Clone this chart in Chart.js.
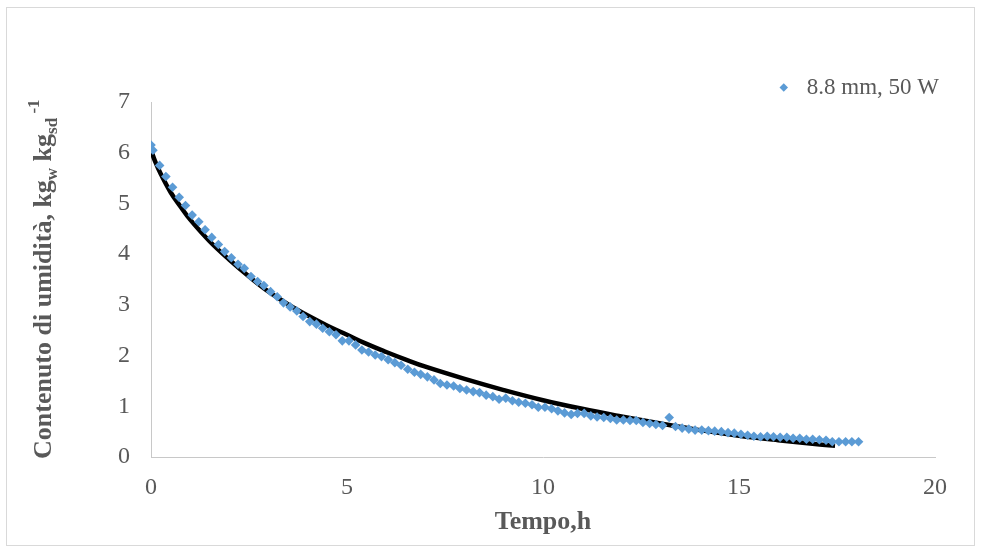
<!DOCTYPE html>
<html>
<head>
<meta charset="utf-8">
<script src="https://cdn.jsdelivr.net/npm/chart.js@4.4.1/dist/chart.umd.min.js"></script>
<style>
  html, body { margin: 0; padding: 0; background: #ffffff; }
  #wrap { position: relative; width: 982px; height: 553px; }
  #frame { position: absolute; left: 6px; top: 7px; width: 969px; height: 539px; border: 1px solid #d9d9d9; box-sizing: border-box; pointer-events: none; }
  canvas { position: absolute; left: 0; top: 0; }
</style>
</head>
<body>
<div id="wrap">
  <canvas id="c" width="982" height="553"></canvas>
  <div id="frame"></div>
</div>
<script>
// ---- data ----
const seriesLabel = '8.8 mm, 50 W';
const xTitle = 'Tempo,h';

// measured points: time (h)
const tempo = [
  0, 0.05, 0.22, 0.38, 0.55, 0.72, 0.88, 1.05, 1.22, 1.38,
  1.55, 1.72, 1.88, 2.05, 2.22, 2.38, 2.55, 2.72, 2.88, 3.05,
  3.22, 3.38, 3.55, 3.72, 3.88, 4.05, 4.22, 4.38, 4.55, 4.72,
  4.88, 5.05, 5.22, 5.38, 5.55, 5.72, 5.88, 6.05, 6.22, 6.38,
  6.55, 6.72, 6.88, 7.05, 7.22, 7.38, 7.55, 7.72, 7.88, 8.05,
  8.22, 8.38, 8.55, 8.72, 8.88, 9.05, 9.22, 9.38, 9.55, 9.72,
  9.88, 10.05, 10.22, 10.38, 10.55, 10.72, 10.88, 11.05, 11.22, 11.38,
  11.55, 11.72, 11.88, 12.05, 12.22, 12.38, 12.55, 12.72, 12.88, 13.05,
  13.22, 13.38, 13.55, 13.72, 13.88, 14.05, 14.22, 14.38, 14.55, 14.72,
  14.88, 15.05, 15.22, 15.38, 15.55, 15.72, 15.88, 16.05, 16.22, 16.38,
  16.55, 16.72, 16.88, 17.05, 17.22, 17.38, 17.55, 17.72, 17.88, 18.05
];
// measured points: moisture content (kg_w / kg_sd)
const umidita = [
  6.15, 6.05, 5.75, 5.53, 5.32, 5.12, 4.96, 4.77, 4.64, 4.48,
  4.33, 4.19, 4.05, 3.93, 3.80, 3.72, 3.56, 3.46, 3.38, 3.26,
  3.16, 3.04, 2.96, 2.88, 2.77, 2.67, 2.62, 2.54, 2.47, 2.41,
  2.29, 2.29, 2.21, 2.11, 2.07, 2.01, 1.98, 1.92, 1.86, 1.81,
  1.73, 1.67, 1.63, 1.58, 1.52, 1.45, 1.42, 1.40, 1.35, 1.32,
  1.29, 1.27, 1.22, 1.19, 1.14, 1.16, 1.11, 1.08, 1.06, 1.03,
  0.98, 0.98, 0.95, 0.91, 0.87, 0.84, 0.86, 0.86, 0.81, 0.79,
  0.78, 0.76, 0.73, 0.73, 0.72, 0.72, 0.68, 0.66, 0.64, 0.62,
  0.78, 0.60, 0.57, 0.55, 0.53, 0.53, 0.52, 0.51, 0.50, 0.48,
  0.47, 0.45, 0.43, 0.41, 0.40, 0.41, 0.40, 0.39, 0.39, 0.37,
  0.37, 0.35, 0.35, 0.34, 0.33, 0.30, 0.30, 0.30, 0.30, 0.30
];

// fitted model curve (black line)
const fitTempo = [0, 0.1, 0.25, 0.5, 0.75, 1, 1.5, 2, 2.5, 3, 3.5, 4, 4.5, 5, 5.5, 6, 6.5, 7, 8, 9, 10, 11, 12, 13, 14, 15, 16, 17, 17.45];
const fitUmidita = [6.05, 5.84, 5.58, 5.22, 4.94, 4.68, 4.25, 3.89, 3.56, 3.26, 3.01, 2.79, 2.59, 2.41, 2.23, 2.07, 1.92, 1.78, 1.54, 1.32, 1.12, 0.95, 0.80, 0.66, 0.53, 0.42, 0.33, 0.25, 0.22];

const xTicks = [0, 5, 10, 15, 20];
const yTicks = [0, 1, 2, 3, 4, 5, 6, 7];

// y-axis title pieces (normal / subscript / superscript)
const yTitleParts = [
  { text: 'Contenuto di umidità, kg', kind: 'n' },
  { text: 'w', kind: 'sub' },
  { text: ' kg', kind: 'n' },
  { text: 'sd', kind: 'sub' },
  { text: ' -1', kind: 'sup' }
];

// ---- chart ----
const FONT = "'Liberation Serif', 'Times New Roman', serif";
const TXT = '#595959';

const measured = tempo.map((t, i) => ({ x: t, y: umidita[i] }));
const fitted = fitTempo.map((t, i) => ({ x: t, y: fitUmidita[i] }));

const yTitlePlugin = {
  id: 'yTitle',
  afterDraw(chart) {
    const ctx = chart.ctx;
    ctx.save();
    ctx.translate(51, 459);
    ctx.rotate(-Math.PI / 2);
    ctx.fillStyle = TXT;
    ctx.textBaseline = 'alphabetic';
    ctx.textAlign = 'left';
    let x = 0;
    yTitleParts.forEach(p => {
      let size = 26, dy = 0;
      if (p.kind === 'sub') { size = 17; dy = 6; }
      if (p.kind === 'sup') { size = 17; dy = -12; }
      ctx.font = 'bold ' + size + 'px ' + FONT;
      ctx.fillText(p.text, x, dy);
      x += ctx.measureText(p.text).width;
    });
    ctx.restore();
  }
};

const legendShift = {
  id: 'legendShift',
  afterLayout(chart) {
    const lg = chart.legend;
    if (!lg) return;
    lg.top += 7; lg.bottom += 7;
    lg.left += 14; lg.right += 14;
  }
};

new Chart(document.getElementById('c'), {
  type: 'scatter',
  data: {
    datasets: [
      {
        label: seriesLabel,
        data: measured,
        showLine: false,
        pointStyle: 'rectRot',
        pointRadius: 4.8,
        pointHoverRadius: 4.8,
        backgroundColor: '#5B9BD5',
        borderColor: '#5B9BD5',
        borderWidth: 0
      },
      {
        label: 'fit',
        data: fitted,
        showLine: true,
        pointRadius: 0,
        borderColor: '#000000',
        borderWidth: 4.5,
        tension: 0.4,
        fill: false
      }
    ]
  },
  options: {
    responsive: false,
    animation: false,
    events: [],
    layout: { padding: { left: 0, right: 47, top: 59, bottom: 0 } },
    plugins: {
      tooltip: { enabled: false },
      legend: {
        display: true,
        position: 'top',
        align: 'end',
        labels: {
          filter: item => item.datasetIndex === 0,
          usePointStyle: true,
          pointStyle: 'rectRot',
          boxWidth: 23,
          boxHeight: 6,
          padding: 10,
          color: TXT,
          font: { family: FONT, size: 23 }
        }
      }
    },
    scales: {
      x: {
        type: 'linear',
        min: 0, max: 20,
        afterBuildTicks: s => { s.ticks = xTicks.map(v => ({ value: v })); },
        ticks: { color: TXT, font: { family: FONT, size: 24 }, padding: 16, maxRotation: 0 },
        grid: { display: false, drawTicks: false },
        border: { display: true, color: '#c8c8c8', width: 1 },
        title: { display: true, text: xTitle, color: TXT, font: { family: FONT, size: 26, weight: 'bold' }, padding: { top: 0, bottom: 15 } },
        afterFit: s => { s.height = 96; }
      },
      y: {
        type: 'linear',
        min: 0, max: 7,
        afterBuildTicks: s => { s.ticks = yTicks.map(v => ({ value: v })); },
        ticks: { color: TXT, font: { family: FONT, size: 24 }, padding: 21 },
        grid: { display: false, drawTicks: false },
        border: { display: true, color: '#c8c8c8', width: 1 },
        afterFit: s => { s.width = 151; }
      }
    }
  },
  plugins: [yTitlePlugin, legendShift]
});
</script>
</body>
</html>
